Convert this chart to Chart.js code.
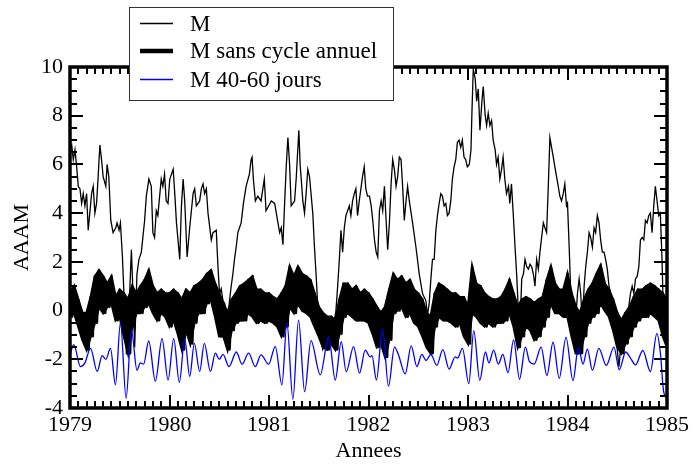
<!DOCTYPE html>
<html>
<head>
<meta charset="utf-8">
<script src="https://cdn.jsdelivr.net/npm/chart.js@4.4.0/dist/chart.umd.min.js"></script>
<style>
  html, body { margin: 0; padding: 0; background: #fff; }
</style>
</head>
<body>
<canvas id="chart" width="693" height="464"></canvas>
<script>
// Graduations des axes
const yearTicks = [1979, 1980, 1981, 1982, 1983, 1984, 1985];
const valueTicks = [-4, -2, 0, 2, 4, 6, 8, 10];

// Serie M : annees et valeurs
const mYears = [
  1979.000, 1979.017, 1979.033, 1979.050, 1979.067, 1979.083, 1979.100, 1979.117, 1979.133, 1979.150, 1979.167, 1979.183,
  1979.217, 1979.233, 1979.250, 1979.267, 1979.283, 1979.300, 1979.317, 1979.333, 1979.360, 1979.373, 1979.390, 1979.410,
  1979.433, 1979.460, 1979.473, 1979.493, 1979.507, 1979.527, 1979.550, 1979.567, 1979.590, 1979.617, 1979.633, 1979.650,
  1979.673, 1979.693, 1979.717, 1979.750, 1979.767, 1979.793, 1979.817, 1979.833, 1979.850, 1979.867, 1979.883, 1979.917,
  1979.933, 1979.950, 1979.967, 1979.985,
  1980.003, 1980.037, 1980.053, 1980.070, 1980.103, 1980.120, 1980.137, 1980.153, 1980.177, 1980.203, 1980.220, 1980.237,
  1980.253, 1980.270, 1980.303, 1980.320, 1980.337, 1980.353, 1980.370, 1980.387, 1980.420, 1980.437, 1980.470, 1980.487,
  1980.503, 1980.520, 1980.537, 1980.553, 1980.570, 1980.587, 1980.603, 1980.620, 1980.637, 1980.653, 1980.670, 1980.687,
  1980.720, 1980.743, 1980.770, 1980.803, 1980.820, 1980.830, 1980.843, 1980.863, 1980.887, 1980.920, 1980.953, 1980.970,
  1981.023, 1981.057, 1981.090, 1981.107, 1981.123, 1981.140, 1981.157, 1981.173, 1981.190, 1981.207, 1981.223, 1981.257,
  1981.273, 1981.300, 1981.313, 1981.340, 1981.357, 1981.373, 1981.390, 1981.407, 1981.440, 1981.457, 1981.473, 1981.490,
  1981.507, 1981.523, 1981.540, 1981.573, 1981.607, 1981.640, 1981.673, 1981.690, 1981.707, 1981.723, 1981.740, 1981.757,
  1981.773, 1981.790, 1981.807, 1981.823, 1981.840, 1981.857, 1981.873, 1981.890, 1981.907, 1981.940, 1981.957, 1981.973,
  1981.990,
  1982.010, 1982.027, 1982.043, 1982.060, 1982.077, 1982.093, 1982.110, 1982.127, 1982.143, 1982.160, 1982.177, 1982.193,
  1982.210, 1982.227, 1982.243, 1982.260, 1982.277, 1982.293, 1982.310, 1982.327, 1982.343, 1982.360, 1982.377, 1982.393,
  1982.410, 1982.443, 1982.477, 1982.510, 1982.543, 1982.577, 1982.593, 1982.610, 1982.627, 1982.643, 1982.660, 1982.677,
  1982.693, 1982.710, 1982.727, 1982.743, 1982.760, 1982.777, 1982.793, 1982.810, 1982.827, 1982.843, 1982.860, 1982.877,
  1982.893, 1982.910, 1982.927, 1982.943, 1982.960, 1982.977, 1982.993,
  1983.013, 1983.030, 1983.040, 1983.053, 1983.073, 1983.087, 1983.103, 1983.120, 1983.140, 1983.153, 1983.173, 1983.187,
  1983.203, 1983.220, 1983.237, 1983.253, 1983.273, 1983.287, 1983.303, 1983.320, 1983.337, 1983.353, 1983.370, 1983.387,
  1983.407, 1983.420, 1983.437, 1983.453, 1983.473, 1983.490, 1983.507, 1983.523, 1983.540, 1983.557, 1983.573, 1983.590,
  1983.607, 1983.623, 1983.640, 1983.657, 1983.673, 1983.690, 1983.707, 1983.723, 1983.740, 1983.757, 1983.773, 1983.790,
  1983.807, 1983.823, 1983.840, 1983.857, 1983.873, 1983.890, 1983.907, 1983.923, 1983.940, 1983.957, 1983.973, 1983.990,
  1984.000, 1984.017, 1984.033, 1984.050, 1984.067, 1984.083, 1984.100, 1984.117, 1984.133, 1984.150, 1984.167, 1984.183,
  1984.200, 1984.217, 1984.233, 1984.250, 1984.267, 1984.283, 1984.300, 1984.317, 1984.333, 1984.350, 1984.367, 1984.383,
  1984.400, 1984.417, 1984.433, 1984.450, 1984.467, 1984.483, 1984.500, 1984.517, 1984.533, 1984.550, 1984.567, 1984.583,
  1984.600, 1984.617, 1984.633, 1984.650, 1984.667, 1984.683, 1984.700, 1984.717, 1984.733, 1984.750, 1984.767, 1984.783,
  1984.800, 1984.817, 1984.833, 1984.850, 1984.867, 1984.883, 1984.900, 1984.917, 1984.933, 1984.950, 1984.967, 1984.983,
  1985.000
];
const mValues = [
  6.5, 6.8, 6.2, 6.6, 5.9, 5.1, 5.0, 4.4, 4.8, 4.3, 4.8, 3.3,
  4.8, 5.1, 4.0, 4.4, 5.5, 6.8, 6.2, 5.5, 5.1, 6.0, 5.5, 3.7,
  3.2, 3.4, 3.6, 3.3, 3.6, 2.2, -0.1, -1.8, -0.3, 2.5, 0.7, -1.5,
  1.5, 2.1, 2.4, 3.7, 4.7, 5.4, 5.1, 3.2, 3.0, 4.1, 3.9, 5.4,
  5.1, 5.6, 4.5, 4.4,
  5.4, 5.8, 4.8, 3.6, 2.1, 4.3, 5.4, 4.5, 2.2, 3.4, 4.1, 4.8,
  5.0, 4.3, 4.5, 5.0, 5.2, 4.8, 5.0, 4.0, 2.9, 3.2, 3.3, 1.8,
  0.7, 0.9, 0.4, 0.3, -0.1, -0.4, 0.4, 1.0, 1.5, 2.1, 2.6, 3.2,
  3.6, 4.4, 5.1, 5.6, 6.2, 6.3, 5.4, 4.5, 4.7, 4.5, 5.4, 4.1,
  4.5, 4.4, 3.6, 3.2, 3.4, 2.7, 4.4, 5.9, 7.1, 6.0, 4.3, 4.5,
  5.4, 7.4, 6.0, 4.5, 4.0, 4.8, 5.8, 5.5, 4.0, 2.6, 1.5, 0.2,
  -0.5, -1.1, -1.6, -1.3, -0.9, -0.8, 0.0, 1.0, 2.1, 3.3, 2.4, 3.4,
  3.9, 4.1, 4.3, 3.9, 4.5, 4.8, 5.0, 3.9, 4.5, 5.5, 5.9, 5.0,
  4.7,
  4.7, 4.3, 3.7, 2.9, 2.4, 2.2, 4.1, 4.5, 4.1, 5.1, 3.7, 2.5,
  3.6, 5.2, 6.2, 5.8, 5.1, 5.5, 6.3, 6.2, 5.1, 3.7, 4.5, 5.1,
  4.5, 3.6, 2.6, 1.5, 0.7, 0.4, -0.2, 0.3, 1.3, 2.1, 2.1, 3.3,
  3.9, 4.4, 4.8, 4.7, 4.3, 4.4, 3.9, 4.0, 4.5, 5.4, 5.9, 6.2,
  6.9, 7.0, 6.7, 7.0, 6.3, 6.2, 5.9,
  6.0, 6.6, 8.2, 9.9, 9.5, 8.6, 9.1, 7.4, 8.6, 9.2, 8.0, 7.6,
  8.1, 7.6, 7.8, 7.0, 6.6, 6.0, 6.3, 5.4, 5.8, 6.3, 5.4, 4.8,
  5.1, 4.4, 5.2, 4.1, 2.6, 1.4, -0.1, -0.7, 1.3, 1.5, 2.1, 1.8,
  1.7, 1.9, 1.8, 1.5, 1.0, 2.1, 1.7, 2.4, 3.0, 3.6, 3.4, 3.2,
  5.1, 7.1, 6.7, 6.3, 5.9, 5.5, 5.1, 4.7, 4.5, 4.8, 5.2, 4.3,
  4.4, 2.6, 0.7, -0.1, -0.9, -0.4, 0.7, 1.3, 0.7, -0.7, 1.0, 1.8,
  2.4, 3.2, 3.0, 2.6, 3.4, 3.2, 3.9, 3.6, 2.9, 2.4, 2.4, 2.1,
  1.7, 1.0, 0.7, 0.4, 0.0, -0.7, -1.6, -2.3, -1.6, -1.1, -0.7, -0.4,
  -0.1, 0.2, 0.7, 1.0, 0.7, 1.3, 1.4, 1.8, 2.9, 3.0, 2.9, 3.7,
  3.6, 3.9, 4.0, 3.2, 4.3, 5.1, 4.5, 3.9, 4.0, 2.1, -0.7, -1.1,
  -1.6
];

// Serie M sans cycle annuel : bords haut et bas du trait, tous les demi-mois
const sansStart = 1979;
const sansStep = 1 / 24;
const sansTop = [
  0.7, 1.0, 0.45, -0.1, -0.1, 0.55, 1.4, 1.65, 1.4, 1.1, 1.4, 0.55, 0.85, 0.7, 0.45, 1.0, 0.7, 1.0, 1.25, 1.65, 1.0, 0.7, 0.85, 0.7,
  0.7, 0.85, 0.7, 0.45, 0.85, 0.7, 1.0, 1.1, 1.25, 1.5, 1.65, 1.1, 0.7, 0.3, -0.1, 0.45, 0.7, 1.0, 1.1, 1.25, 1.4, 0.85, 0.85, 0.7,
  0.7, 0.55, 0.45, 0.7, 1.0, 1.8, 1.4, 1.8, 1.5, 1.4, 1.25, 0.7, 0.15, -0.1, -0.25, -0.25, -0.4, 0.45, 1.1, 1.1, 0.85, 1.0, 0.7, 0.85,
  0.7, 0.45, 0.15, -0.1, 0.15, 0.85, 1.5, 1.25, 1.4, 1.1, 1.25, 0.85, 0.7, 0.45, -0.1, -0.25, 0.7, 1.1, 1.0, 0.85, 0.7, 0.7, 0.55, 0.55,
  0.15, 1.8, 1.1, 1.0, 0.7, 0.55, 0.45, 0.45, 0.55, 0.85, 1.25, 0.7, 0.15, 0.45, 0.55, 0.45, 0.3, 0.45, 0.55, 1.25, 1.8, 1.1, 0.85, 0.85,
  1.5, 0.7, 0.15, -0.1, 0.45, 0.85, 1.1, 1.5, 1.85, 1.1, 0.85, 0.45, -0.1, -0.4, -0.1, 0.15, 0.55, 0.85, 0.85, 1.0, 1.1, 1.0, 0.85, 0.7,
  0.4
];
const sansBottom = [
  -0.25, -0.1, -0.65, -1.2, -1.6, -1.05, -0.5, 0.15, -0.1, 0.15, 0.3, -0.4, -0.25, -1.05, -1.75, -0.65, -0.1, -0.1, 0.15, 0.3, -0.1, -0.4, -0.1, -0.25,
  -0.65, -0.4, -0.95, -1.6, -0.8, -1.35, -0.5, -0.1, -0.1, 0.3, 0.45, -0.25, -1.05, -1.05, -1.6, -0.8, -0.5, -0.4, -0.4, -0.1, -0.25, -0.5, -0.4, -0.5,
  -0.4, -0.5, -0.65, -1.05, -0.65, 0.15, -0.1, 0.3, 0.0, -0.1, -0.25, -0.65, -1.05, -1.5, -1.6, -1.35, -1.6, -0.95, -0.25, -0.1, -0.25, -0.4, -0.4, -0.4,
  -0.5, -0.95, -1.5, -1.35, -1.9, -1.2, -0.1, 0.0, 0.15, -0.25, -0.1, -0.5, -0.65, -1.05, -1.5, -1.75, -0.65, -0.25, -0.4, -0.4, -0.5, -0.65, -0.5, -1.05,
  -1.35, -0.1, -0.25, -0.5, -0.65, -0.5, -0.65, -0.5, -0.5, -0.4, -0.1, -0.65, -1.5, -1.05, -0.65, -0.8, -1.2, -1.05, -0.65, -0.25, 0.3, -0.1, -0.1, -0.25,
  -0.25, -1.05, -1.75, -1.75, -1.05, -0.5, -0.25, -0.1, 0.3, 0.0, -0.25, -0.8, -1.5, -1.75, -1.35, -1.05, -0.65, -0.4, -0.25, -0.25, -0.1, -0.25, -0.4, -1.05,
  -1.5
];

// Serie M 40-60 jours : extremums
const blueYears = [
  1979.000, 1979.038, 1979.105, 1979.150, 1979.206, 1979.273, 1979.323, 1979.360, 1979.407, 1979.457, 1979.507, 1979.564,
  1979.617, 1979.673, 1979.707, 1979.740, 1979.791, 1979.858, 1979.925, 1979.986,
  1980.042, 1980.099, 1980.153, 1980.203, 1980.250, 1980.303, 1980.350, 1980.411, 1980.461, 1980.500, 1980.538, 1980.598,
  1980.672, 1980.729, 1980.795, 1980.862, 1980.920, 1980.996,
  1981.063, 1981.130, 1981.180, 1981.240, 1981.297, 1981.358, 1981.422, 1981.515, 1981.600, 1981.666, 1981.726, 1981.776,
  1981.850, 1981.910, 1981.967,
  1982.017, 1982.035, 1982.080, 1982.141, 1982.201, 1982.261, 1982.300, 1982.369, 1982.429, 1982.486, 1982.536, 1982.579,
  1982.626, 1982.687, 1982.747, 1982.810, 1982.871, 1982.895, 1982.944,
  1983.008, 1983.058, 1983.118, 1983.175, 1983.210, 1983.258, 1983.305, 1983.350, 1983.402, 1983.458, 1983.518, 1983.577,
  1983.618, 1983.665, 1983.735, 1983.793, 1983.855, 1983.917, 1983.985,
  1984.055, 1984.110, 1984.155, 1984.200, 1984.250, 1984.315, 1984.390, 1984.467, 1984.520, 1984.585, 1984.633, 1984.683,
  1984.757, 1984.833, 1984.898, 1984.935, 1984.965, 1985.000
];
const blueValues = [
  -1.8, -1.4, -2.3, -2.15, -1.55, -2.5, -1.85, -2.0, -1.55, -3.05, -0.5, -3.6,
  -0.8, -2.45, -2.15, -2.2, -1.25, -2.9, -1.15, -2.85,
  -1.15, -2.95, -1.15, -2.7, -1.35, -2.5, -1.35, -2.5, -1.75, -2.0, -1.8, -2.3,
  -1.7, -2.2, -1.75, -2.3, -1.82, -2.2,
  -1.48, -3.05, -0.5, -3.64, -0.39, -3.33, -1.23, -2.64, -1.07, -2.85, -1.28, -2.51,
  -1.48, -2.57, -1.62,
  -1.9, -1.85, -2.85, -0.75, -3.1, -1.5, -1.8, -2.6, -1.45, -2.3, -1.8, -2.05,
  -1.8, -2.25, -1.6, -2.4, -1.9, -1.95, -1.55,
  -3.0, -0.82, -2.86, -1.7, -2.15, -1.62, -2.2, -1.8, -2.55, -1.2, -2.82, -1.5,
  -2.1, -2.2, -1.5, -2.67, -1.3, -2.78, -1.1,
  -2.88, -1.5, -2.2, -1.58, -2.45, -1.55, -2.25, -1.5, -2.43, -1.7, -1.95, -2.23,
  -1.64, -2.5, -0.95, -1.8, -3.3, -3.6
];

// Construction des points
const mPoints = mYears.map((t, i) => ({ x: t, y: mValues[i] }));
const sansTopPoints = sansTop.map((v, i) => ({ x: sansStart + i * sansStep, y: v }));
const sansBottomPoints = sansBottom.map((v, i) => ({ x: sansStart + i * sansStep, y: v }));
// trait en dents de scie entre les deux bords (haut, puis bas decale d'un quart de mois)
const sansZigzag = [];
sansTop.forEach((v, i) => {
  sansZigzag.push({ x: sansStart + i * sansStep, y: v });
  sansZigzag.push({ x: sansStart + (i + 0.5) * sansStep, y: sansBottom[i] });
});
const bluePoints = blueYears.map((t, i) => ({ x: t, y: blueValues[i] }));

const serif = 'Liberation Serif';

// Cadre epais avec graduations vers l'interieur sur les quatre cotes
const cadre = {
  id: 'cadre',
  afterDatasetsDraw(chart) {
    const { ctx, chartArea: a, scales: { x, y } } = chart;
    ctx.save();
    ctx.strokeStyle = '#000';
    ctx.lineWidth = 2;
    ctx.beginPath();
    for (let k = 0; k <= 72; k++) {
      const px = Math.round(x.getPixelForValue(yearTicks[0] + k / 12));
      const len = k % 12 === 0 ? 13 : 7;
      ctx.moveTo(px, a.bottom); ctx.lineTo(px, a.bottom - len);
      ctx.moveTo(px, a.top); ctx.lineTo(px, a.top + len);
    }
    for (let k = 0; k <= 28; k++) {
      const py = Math.round(y.getPixelForValue(valueTicks[0] + k * 0.5));
      const len = k % 4 === 0 ? 13 : 7;
      ctx.moveTo(a.left, py); ctx.lineTo(a.left + len, py);
      ctx.moveTo(a.right, py); ctx.lineTo(a.right - len, py);
    }
    ctx.stroke();
    ctx.lineWidth = 3.5;
    ctx.strokeRect(a.left, a.top, a.right - a.left, a.bottom - a.top);
    ctx.restore();
  }
};

// Legende encadree, posee par-dessus le cadre
const legende = {
  id: 'legende',
  afterDraw(chart) {
    const ctx = chart.ctx;
    const rows = [23.5, 51, 79.5];
    ctx.save();
    ctx.fillStyle = '#fff';
    ctx.fillRect(129, 7, 264, 93);
    ctx.strokeStyle = '#333';
    ctx.lineWidth = 1;
    ctx.strokeRect(129.5, 7.5, 264, 93);
    chart.data.datasets.filter(ds => ds.legendWidth).forEach((ds, i) => {
      const yy = rows[i];
      ctx.strokeStyle = ds.borderColor;
      ctx.lineWidth = ds.legendWidth;
      ctx.beginPath();
      ctx.moveTo(140, yy);
      ctx.lineTo(173, yy);
      ctx.stroke();
      ctx.fillStyle = '#000';
      ctx.font = '23px "' + serif + '"';
      ctx.textBaseline = 'middle';
      ctx.textAlign = 'left';
      ctx.fillText(ds.label, 190, yy + 1);
    });
    ctx.restore();
  }
};

new Chart(document.getElementById('chart').getContext('2d'), {
  type: 'line',
  data: {
    datasets: [
      {
        label: 'M',
        data: mPoints,
        borderColor: '#000',
        borderWidth: 1.3,
        legendWidth: 1.3,
        pointRadius: 0,
        tension: 0,
        order: 1
      },
      {
        // bord haut du trait epais, rempli jusqu'au bord bas (jeu 3)
        label: 'M sans cycle annuel',
        data: sansTopPoints,
        borderColor: '#000',
        backgroundColor: '#000',
        borderWidth: 2.5,
        legendWidth: 4.5,
        fill: { target: 3, above: '#000', below: '#000' },
        pointRadius: 0,
        tension: 0,
        order: 2
      },
      {
        label: 'M 40-60 jours',
        data: bluePoints,
        borderColor: '#0000ff',
        borderWidth: 1.3,
        legendWidth: 1.3,
        pointRadius: 0,
        cubicInterpolationMode: 'monotone',
        order: 0
      },
      {
        label: 'M sans cycle annuel (bas)',
        data: sansBottomPoints,
        borderColor: '#000',
        borderWidth: 2.5,
        fill: false,
        pointRadius: 0,
        tension: 0,
        order: 3
      },
      {
        label: 'M sans cycle annuel (trait)',
        data: sansZigzag,
        borderColor: '#000',
        borderWidth: 2.5,
        borderJoinStyle: 'round',
        fill: false,
        pointRadius: 0,
        tension: 0,
        order: 2
      }
    ]
  },
  options: {
    responsive: false,
    animation: false,
    events: [],
    layout: { padding: { left: 0, right: 26, top: 67, bottom: 0 } },
    plugins: { legend: { display: false }, tooltip: { enabled: false } },
    scales: {
      x: {
        type: 'linear',
        min: 1979,
        max: 1985,
        grid: { display: false, drawTicks: false },
        border: { display: false },
        afterBuildTicks: s => { s.ticks = yearTicks.map(v => ({ value: v })); },
        afterFit: s => { s.height = 56; },
        ticks: {
          padding: 4,
          color: '#000',
          maxRotation: 0,
          autoSkip: false,
          font: { family: serif, size: 22 },
          callback: v => String(v)
        },
        title: { display: true, text: 'Annees', color: '#000', padding: 0, font: { family: serif, size: 22 } }
      },
      y: {
        min: -4,
        max: 10,
        grid: { display: false, drawTicks: false },
        border: { display: false },
        afterBuildTicks: s => { s.ticks = valueTicks.map(v => ({ value: v })); },
        afterFit: s => { s.width = 70; },
        ticks: {
          padding: 7,
          color: '#000',
          font: { family: serif, size: 22 },
          callback: v => String(v)
        },
        title: { display: true, text: 'AAAM', color: '#000', padding: { top: 9, bottom: 0 }, font: { family: serif, size: 22 } }
      }
    }
  },
  plugins: [cadre, legende]
});
</script>
</body>
</html>
